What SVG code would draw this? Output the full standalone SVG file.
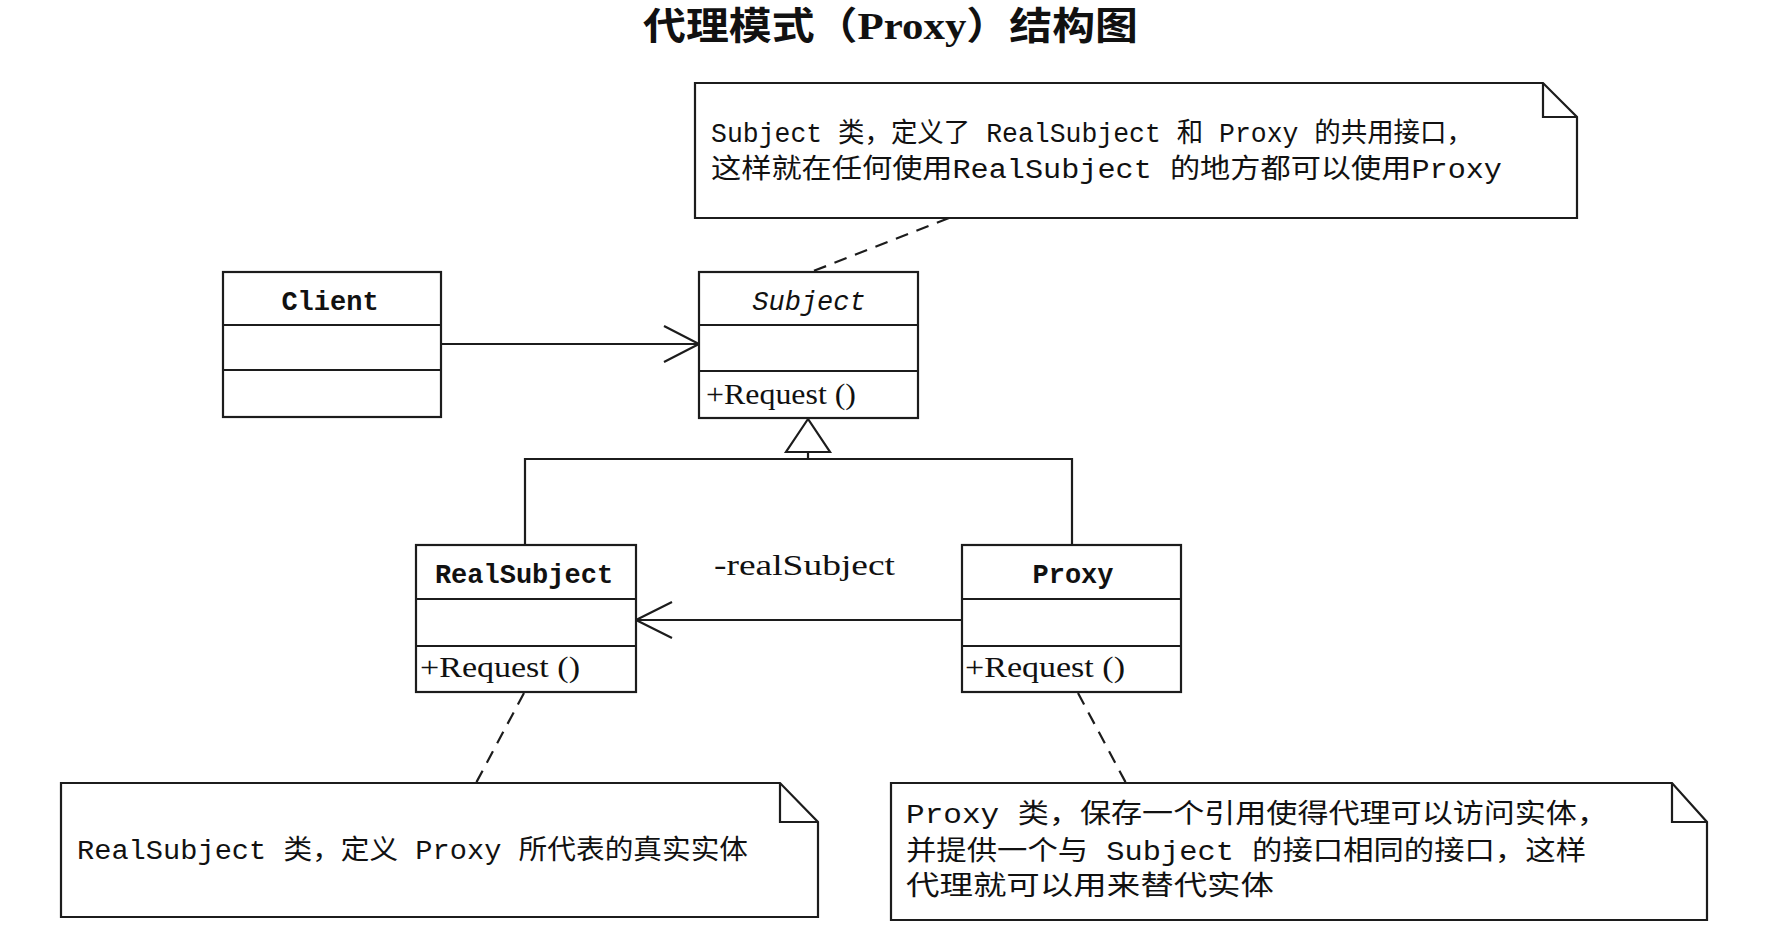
<svg xmlns="http://www.w3.org/2000/svg" width="1776" height="942" viewBox="0 0 1776 942">
<defs>
<style>
.box{fill:#fff;stroke:#1c1c1c;stroke-width:2.2}
.ln{fill:none;stroke:#1c1c1c;stroke-width:2.2}
.dash{fill:none;stroke:#1c1c1c;stroke-width:2.2;stroke-dasharray:13 9}
.cname{font-family:"Liberation Mono","DejaVu Sans Mono",monospace;font-size:27px;font-weight:bold;fill:#111;text-anchor:middle}
.abstract{font-style:italic;font-weight:normal}
.op{font-family:"Liberation Serif","Noto Sans CJK SC",serif;font-size:29px;fill:#111}
.note{font-family:"Liberation Mono","Noto Sans CJK SC",monospace;font-size:27px;fill:#111}
.title{font-family:"Liberation Serif","Noto Sans CJK SC",serif;font-size:38px;font-weight:bold;fill:#111}
</style>
</defs>
<rect width="1776" height="942" fill="#fff"/>
<text class="title" x="643" y="39" textLength="495" lengthAdjust="spacingAndGlyphs">代理模式（Proxy）结构图</text>

<g id="connectors">
<line class="ln" x1="441" y1="344" x2="699" y2="344"/>
<polyline class="ln" points="664,326 699,344 664,362"/>
<line class="ln" x1="962" y1="620" x2="636" y2="620"/>
<polyline class="ln" points="672,602 636,620 672,638"/>
<polyline class="ln" points="525,545 525,459 1072,459 1072,545"/>
<line class="ln" x1="808" y1="459" x2="808" y2="452"/>
<polygon class="box" points="808,419 786,452 830,452"/>
<line class="dash" x1="949" y1="218" x2="811" y2="272"/>
<line class="dash" x1="524" y1="693" x2="476" y2="783"/>
<line class="dash" x1="1078" y1="693" x2="1126" y2="783"/>
<text class="op" x="714" y="575" textLength="181" lengthAdjust="spacingAndGlyphs">-realSubject</text>
</g>

<g id="client">
<rect class="box" x="223" y="272" width="218" height="145"/>
<line class="ln" x1="223" y1="325" x2="441" y2="325"/>
<line class="ln" x1="223" y1="370" x2="441" y2="370"/>
<text class="cname" x="330" y="310">Client</text>
</g>

<g id="subject">
<rect class="box" x="699" y="272" width="219" height="146"/>
<line class="ln" x1="699" y1="325" x2="918" y2="325"/>
<line class="ln" x1="699" y1="371" x2="918" y2="371"/>
<text class="cname abstract" x="809" y="310">Subject</text>
<text class="op" x="706" y="404" textLength="150" lengthAdjust="spacingAndGlyphs">+Request ()</text>
</g>

<g id="realsubject">
<rect class="box" x="416" y="545" width="220" height="147"/>
<line class="ln" x1="416" y1="599" x2="636" y2="599"/>
<line class="ln" x1="416" y1="646" x2="636" y2="646"/>
<text class="cname" x="524" y="583">RealSubject</text>
<text class="op" x="420" y="677" textLength="160" lengthAdjust="spacingAndGlyphs">+Request ()</text>
</g>

<g id="proxy">
<rect class="box" x="962" y="545" width="219" height="147"/>
<line class="ln" x1="962" y1="599" x2="1181" y2="599"/>
<line class="ln" x1="962" y1="646" x2="1181" y2="646"/>
<text class="cname" x="1073" y="583">Proxy</text>
<text class="op" x="965" y="677" textLength="160" lengthAdjust="spacingAndGlyphs">+Request ()</text>
</g>

<g id="note-subject">
<path class="box" d="M695,83 H1543 L1577,117 V218 H695 Z"/>
<polyline class="ln" points="1543,83 1543,117 1577,117"/>
<text class="note" x="711" y="142" textLength="762" lengthAdjust="spacingAndGlyphs">Subject 类，定义了 RealSubject 和 Proxy 的共用接口，</text>
<text class="note" x="711" y="178" textLength="791" lengthAdjust="spacingAndGlyphs">这样就在任何使用RealSubject 的地方都可以使用Proxy</text>
</g>

<g id="note-realsubject">
<path class="box" d="M61,783 H780 L818,822 V917 H61 Z"/>
<polyline class="ln" points="780,783 780,822 818,822"/>
<text class="note" x="77" y="859" textLength="671" lengthAdjust="spacingAndGlyphs">RealSubject 类，定义 Proxy 所代表的真实实体</text>
</g>

<g id="note-proxy">
<path class="box" d="M891,783 H1672 L1707,822 V920 H891 Z"/>
<polyline class="ln" points="1672,783 1672,822 1707,822"/>
<text class="note" x="906" y="823" textLength="702" lengthAdjust="spacingAndGlyphs">Proxy 类，保存一个引用使得代理可以访问实体，</text>
<text class="note" x="906" y="860" textLength="680" lengthAdjust="spacingAndGlyphs">并提供一个与 Subject 的接口相同的接口，这样</text>
<text class="note" x="906" y="895" textLength="368" lengthAdjust="spacingAndGlyphs">代理就可以用来替代实体</text>
</g>
</svg>
